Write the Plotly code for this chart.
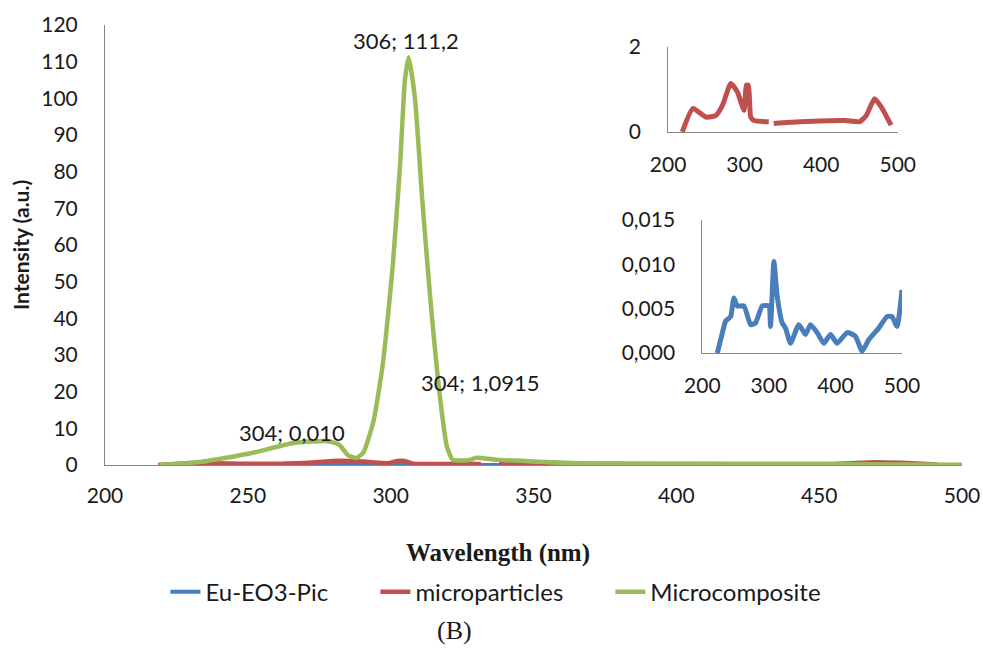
import plotly.graph_objects as go

# ---- data ----
green_x = [219, 233, 251, 266, 278, 282, 285, 288, 290.5, 294, 297.3, 300.8, 303.3, 305, 306.3, 308.5, 311, 313.8,
           316.6, 319.7, 321.8, 327.8, 330, 338, 367, 420, 460, 500]
green_y = [0, 0.8, 3.2, 6.0, 6.5, 5.5, 2.7, 1.9, 3.5, 12, 27.8, 55, 82, 105, 111.2, 100, 73, 46,
           23, 5, 1.4, 1.4, 2.0, 1.4, 0.5, 0.3, 0.2, 0.1]

red_x = [218.6, 232.4, 249.6, 262.6, 271.2, 282, 290.6, 299.3, 302.3, 304.9, 308, 312.2, 331.6, 335,
         338, 372.6, 430.9, 450.3, 459, 469.7, 478.4, 491.3]
red_y = [0, 0.55, 0.35, 0.39, 0.63, 1.14, 0.94, 0.51, 1.1, 1.1, 0.35, 0.27, 0.24, None,
         0.2, 0.24, 0.27, 0.24, 0.39, 0.78, 0.59, 0.16]

blue_x = [222.5, 230, 235, 242.5, 247.5, 252.5, 262.5, 272.5, 280, 290, 300, 302.5, 307.5, 312.5, 320, 325,
          332.5, 345, 355, 362.5, 372.5, 382.5, 392.5, 402.5, 417.5, 430, 440, 450, 465, 477.5, 485, 492.5,
          500]
blue_y = [0, 0.00225, 0.0036, 0.0041, 0.0062, 0.0053, 0.0053, 0.0032, 0.0034, 0.0053, 0.0053, 0.003, 0.0103,
          0.0064, 0.0034, 0.0028, 0.0011, 0.0032, 0.0021, 0.0032, 0.0023, 0.0011, 0.0021, 0.0011, 0.0023,
          0.0019, 0.0002, 0.0015, 0.0028, 0.0041, 0.0041, 0.003, 0.0071]

series_names = ["Eu-EO3-Pic", "microparticles", "Microcomposite"]
main_yticks = list(range(0, 121, 10))
main_xticks = list(range(200, 501, 50))
inset_xticks = [200, 300, 400, 500]
inset1_yticks = [0, 2]
inset2_yticks = [0, 0.005, 0.010, 0.015]
inset2_yticktext = ["0,000", "0,005", "0,010", "0,015"]

labels = ["306; 111,2", "304; 1,0915", "304; 0,010"]
label_x = [305.5, 331.3, 265.5]
label_y = [115.9, 22.6, 9.0]

BLUE = "#4A7EBB"
RED = "#C0504D"
GREEN = "#9BBB59"
AX = "#868686"
FONT = "Lato, 'Open Sans', sans-serif"
SERIF = "'Liberation Serif', 'DejaVu Serif', serif"
TXT = "#1a1a1a"

fig = go.Figure()
fig.add_trace(go.Scatter(x=blue_x, y=blue_y, mode="lines", name=series_names[0], legend="legend",
                         line=dict(color=BLUE, width=4, shape="spline", smoothing=0.5)))
fig.add_trace(go.Scatter(x=red_x, y=red_y, mode="lines", name=series_names[1], legend="legend2",
                         line=dict(color=RED, width=4.5, shape="spline", smoothing=0.5)))
fig.add_trace(go.Scatter(x=green_x, y=green_y, mode="lines", name=series_names[2], legend="legend3",
                         line=dict(color=GREEN, width=4.5, shape="spline", smoothing=0.5)))

# insets
fig.add_trace(go.Scatter(x=red_x, y=red_y, mode="lines", showlegend=False, xaxis="x2", yaxis="y2",
                         line=dict(color=RED, width=5, shape="spline", smoothing=0.5)))
fig.add_trace(go.Scatter(x=blue_x, y=blue_y, mode="lines", showlegend=False, xaxis="x3", yaxis="y3",
                         line=dict(color=BLUE, width=5, shape="spline", smoothing=0.5)))

axis_common = dict(showgrid=False, zeroline=False, showline=True, linecolor=AX, linewidth=1,
                   ticks="", automargin=False, tickfont=dict(family=FONT, size=21, color=TXT))

legend_common = dict(orientation="h", yanchor="middle", xanchor="left", y=-0.289,
                     font=dict(family=FONT, size=24, color=TXT), bgcolor="rgba(0,0,0,0)")

fig.update_layout(
    width=983, height=648,
    margin=dict(l=105, r=21, t=25, b=183, autoexpand=False),
    plot_bgcolor="white", paper_bgcolor="white",
    font=dict(family=FONT, size=21, color=TXT),
    xaxis=dict(range=[200, 500], tickvals=main_xticks, ticklabelstandoff=12, **axis_common),
    yaxis=dict(range=[0, 120], tickvals=main_yticks, ticklabelstandoff=22, **axis_common),
    xaxis2=dict(domain=[0.657, 0.925], anchor="y2", range=[200, 500], tickvals=inset_xticks,
                ticklabelstandoff=14, **axis_common),
    yaxis2=dict(domain=[0.757, 0.95], anchor="x2", range=[0, 2], tickvals=inset1_yticks,
                ticklabelstandoff=22, **axis_common),
    xaxis3=dict(domain=[0.697, 0.930], anchor="y3", range=[200, 500], tickvals=inset_xticks,
                ticklabelstandoff=14, **axis_common),
    yaxis3=dict(domain=[0.2545, 0.557], anchor="x3", range=[0, 0.015], tickvals=inset2_yticks,
                ticktext=inset2_yticktext, ticklabelstandoff=22, **axis_common),
    legend=dict(x=0.0705, **legend_common),
    legend2=dict(x=0.3155, **legend_common),
    legend3=dict(x=0.5897, **legend_common),
    showlegend=True,
)

for t, x, y in zip(labels, label_x, label_y):
    fig.add_annotation(text=t, x=x, y=y, xref="x", yref="y", showarrow=False,
                       xanchor="center", yanchor="middle",
                       font=dict(family=FONT, size=22, color=TXT))

fig.add_annotation(text="<b>Intensity (a.u.)</b>", textangle=-90, x=-0.0992, y=0.5, xref="paper", yref="paper",
                   xanchor="center", yanchor="middle",
                   showarrow=False, font=dict(family=FONT, size=21, color=TXT))
fig.add_annotation(text="<b>Wavelength (nm)</b>", x=0.4586, y=-0.2, xref="paper", yref="paper",
                   xanchor="center", yanchor="middle",
                   showarrow=False, font=dict(family=SERIF, size=25, color=TXT))
fig.add_annotation(text="(B)", x=0.408, y=-0.375, xref="paper", yref="paper",
                   xanchor="center", yanchor="middle",
                   showarrow=False, font=dict(family=SERIF, size=26, color=TXT))

fig.write_html("out.html", config={"displayModeBar": False},
               post_script="document.body.style.margin='0';document.body.style.overflow='hidden';")
